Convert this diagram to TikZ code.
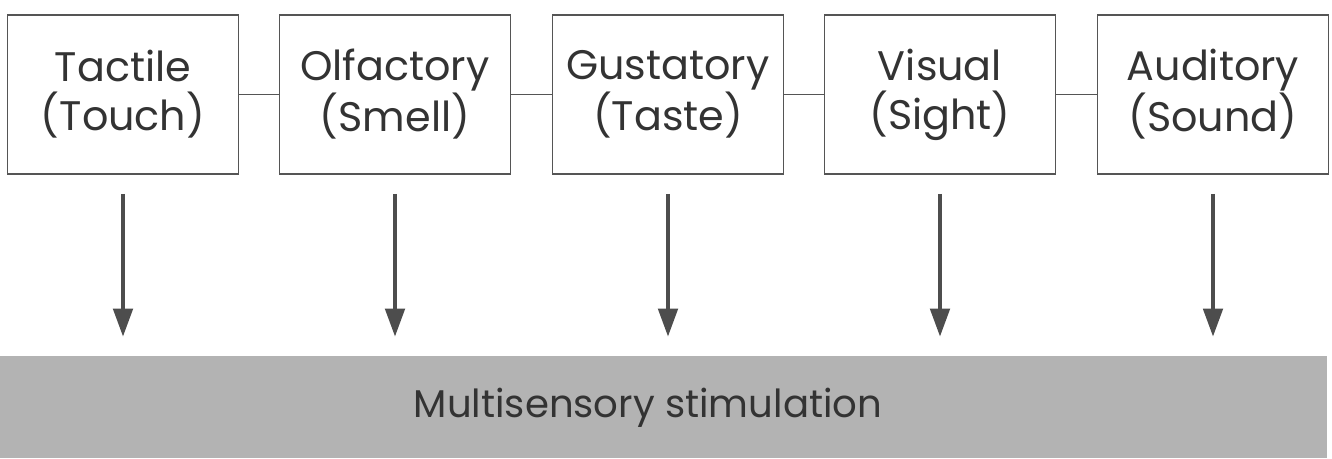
\documentclass[tikz,border=0pt]{standalone}
\usepackage{fontspec}
\setmainfont{Poppins}
\usetikzlibrary{arrows.meta}
\definecolor{boxline}{HTML}{555555}
\definecolor{arrowgray}{HTML}{4D4D4D}
\definecolor{bargray}{HTML}{B3B3B3}
\definecolor{textgray}{HTML}{333333}
\begin{document}
\begin{tikzpicture}[x=0.02cm,y=-0.02cm]

      \useasboundingbox (0,0) rectangle (1332,458);

      \begin{scope}[every node/.style={draw=boxline,line width=1pt,align=center,
          minimum width=4.62cm,minimum height=3.18cm,inner sep=0pt,text=textgray,
          font=\fontsize{23.5}{28}\selectfont}]
        \node (1) at (123,94.5)  {Tactile\\(Touch)};
        \node (2) at (395,94.5)  {Olfactory\\(Smell)};
        \node (3) at (668,94.5)  {Gustatory\\(Taste)};
        \node (4) at (940,94.5)  {Visual\\(Sight)};
        \node (5) at (1213,94.5) {Auditory\\(Sound)};
      \end{scope}

      \node (m) [fill=bargray,minimum width=26.54cm,minimum height=2.04cm,inner sep=0pt] at (663.5,407) {};
      \node (ms) [text=textgray,font=\fontsize{22}{26}\selectfont] at (648,408) {Multisensory stimulation};

      \begin{scope}[every edge/.style={draw=boxline,line width=1pt}]
        \path (1) edge (2);
        \path (2) edge (3);
        \path (3) edge (4);
        \path (4) edge (5);
      \end{scope}

      \begin{scope}[every edge/.style={draw=arrowgray,line width=2.3pt,
          -{Triangle[length=16pt,width=11pt]},shorten <=0.38cm,shorten >=0.38cm}]
        \foreach \n in {1,...,5}
          \path (\n.south) edge (\n.south |- m.north);
      \end{scope}

    \end{tikzpicture}
\end{document}
